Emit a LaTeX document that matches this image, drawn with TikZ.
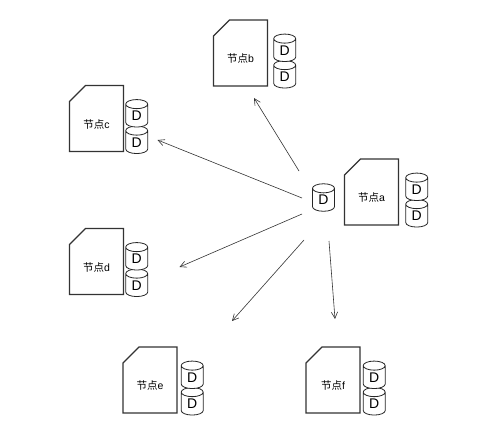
\documentclass[tikz,border=0pt]{standalone}
\usepackage{fontspec}
\setmainfont{Liberation Sans}
\newfontfamily\cjk{Noto Sans CJK SC}
\usetikzlibrary{shapes.geometric, shapes.misc, arrows.meta, positioning}

\begin{document}
\begin{tikzpicture}[
  x=1pt, y=-1pt,
  font=\fontsize{10.5pt}{12pt}\selectfont,
  card/.style={chamfered rectangle, chamfered rectangle corners=north west, chamfered rectangle xsep=11pt, chamfered rectangle ysep=13pt, draw=black!80, line width=1.1pt, fill=white, minimum width=54pt, minimum height=66pt, inner sep=0pt, outer sep=0pt, text width=24pt, text height=8pt, text depth=0pt, label={[yshift=-6pt, inner sep=0pt, text width=, text height=, text depth=]center:{\cjk 节点}#1}},
  disk/.style={cylinder, shape border rotate=90, aspect=0.9, draw=black!85, line width=0.8pt, fill=white, minimum width=22pt, minimum height=27.5pt, inner sep=0pt, outer sep=0pt, font=\fontsize{14pt}{14pt}\selectfont},
  arr/.style={-{Straight Barb[length=2.2mm,width=2.2mm]}, line width=0.6pt, draw=black!80},
]
\useasboundingbox (0,0) rectangle (500,422);
\node[card=a] (nodea) at (371.5,192) {};
\node[card=b] (nodeb) at (240.5,53) {};
\node[card=c] (nodec) at (96.5,118.5) {};
\node[card=d] (noded) at (96.5,261.5) {};
\node[card=e] (nodee) at (150,380) {};
\node[card=f] (nodef) at (333,380) {};
\node[disk, right=9pt of nodea.south east, anchor=south west] (a2) {D};
\node[disk, above=-1pt of a2] (a1) {D};
\node[disk, right=8pt of nodeb.south east, anchor=south west] (b2) {D};
\node[disk, above=-1pt of b2] (b1) {D};
\node[disk, right=4pt of nodec.south east, anchor=south west] (c2) {D};
\node[disk, above=-1pt of c2] (c1) {D};
\node[disk, right=4pt of noded.south east, anchor=south west] (d2) {D};
\node[disk, above=-1pt of d2] (d1) {D};
\node[disk, right=6pt of nodee.south east, anchor=south west] (e2) {D};
\node[disk, above=-1pt of e2] (e1) {D};
\node[disk, right=5pt of nodef.south east, anchor=south west] (f2) {D};
\node[disk, above=-1pt of f2] (f1) {D};
\node[disk] (hub) at (323.5,200) {D};
\draw[arr] ([shift={(-24.5,-29)}]hub.center) -- ([shift={(13.5,12)}]nodeb.south);
\draw[arr] ([shift={(-21.5,-2)}]hub.center) -- ([shift={(34,21.5)}]nodec.east);
\draw[arr] ([shift={(-21.5,14)}]hub.center) -- ([shift={(56,5.5)}]noded.east);
\draw[arr] ([shift={(-19.5,40)}]hub.center) -- ([shift={(82,-26)}]nodee.north);
\draw[arr] ([shift={(5.5,41)}]hub.center) -- ([shift={(2,-28)}]nodef.north);
\end{tikzpicture}
\end{document}
